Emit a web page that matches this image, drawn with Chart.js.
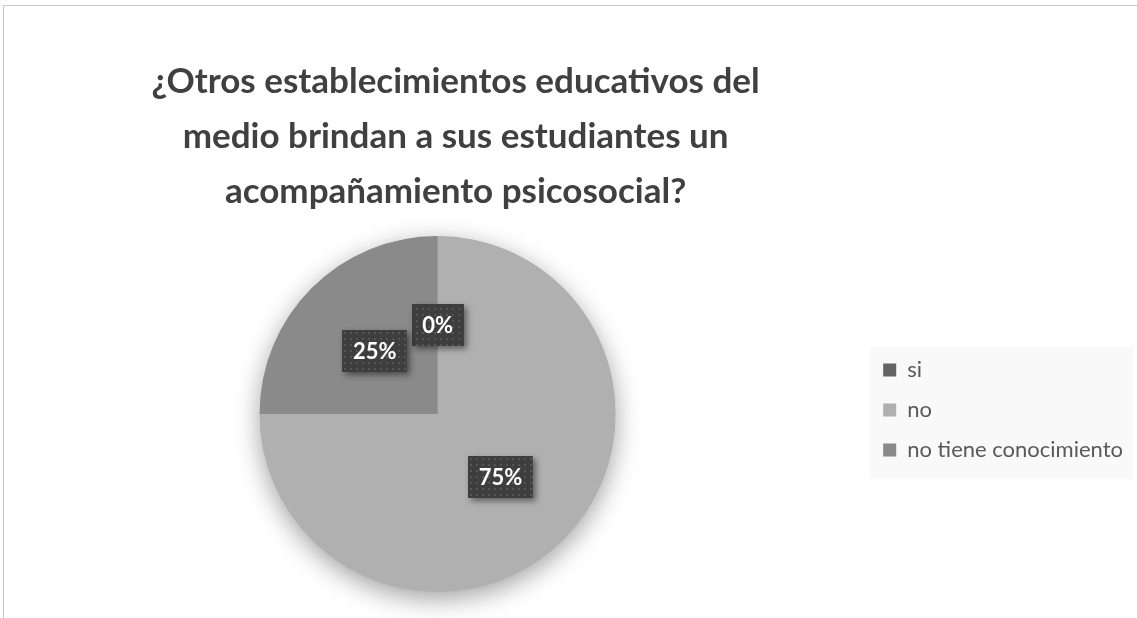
<!DOCTYPE html>
<html><head><meta charset="utf-8">
<script src="https://cdn.jsdelivr.net/npm/chart.js@4/dist/chart.umd.min.js"></script>
<style>
html,body{margin:0;padding:0;background:#fff;overflow:hidden;}
#wrap{position:relative;width:1137px;height:618px;}
#frame{position:absolute;left:3px;top:5px;width:2000px;height:2000px;border:1px solid #c9c9c9;box-sizing:border-box;}
canvas{position:absolute;left:0;top:0;}
</style></head><body>
<div id="wrap"><div id="frame"></div><canvas id="c" width="1137" height="618"></canvas></div>
<script>
const titleLines = ['¿Otros establecimientos educativos del', 'medio brindan a sus estudiantes un', 'acompañamiento psicosocial?'];
const categories = ['si', 'no', 'no tiene conocimiento'];
const percentages = [0, 75, 25];
const sliceColors = ['#646464', '#b0b0b0', '#8a8a8a'];

function makePattern(ctx) {
  const p = document.createElement('canvas');
  p.width = 6; p.height = 6;
  const pc = p.getContext('2d');
  pc.fillStyle = '#3e3e3e'; pc.fillRect(0, 0, 6, 6);
  pc.fillStyle = '#555555'; pc.fillRect(2, 2, 2, 2);
  return ctx.createPattern(p, 'repeat');
}

const legendBg = {
  id: 'legendBg',
  beforeDraw(chart) {
    const lg = chart.legend;
    if (!lg) return;
    const mid = (lg.top + lg.bottom) / 2;
    const ctx = chart.ctx;
    ctx.save();
    ctx.fillStyle = '#f9f9f9';
    ctx.fillRect(lg.left + 5, mid - 63, chart.width - 4 - (lg.left + 5), 132);
    ctx.restore();
  }
};

const layoutShift = {
  id: 'layoutShift',
  afterLayout(chart) {
    const t = chart.titleBlock;
    if (t) { t.left += 18; t.right += 18; }
    const lg = chart.legend;
    if (lg) { lg.top -= 4; lg.bottom -= 4; }
  }
};

const pieShadow = {
  id: 'pieShadow',
  beforeDatasetsDraw(chart) {
    const el = chart.getDatasetMeta(0).data[1];
    if (!el) return;
    const ctx = chart.ctx;
    ctx.save();
    ctx.shadowColor = 'rgba(0,0,0,0.38)';
    ctx.shadowBlur = 26;
    ctx.shadowOffsetY = 7;
    ctx.fillStyle = '#b0b0b0';
    ctx.beginPath();
    ctx.arc(el.x, el.y, el.outerRadius - 0.5, 0, Math.PI * 2);
    ctx.fill();
    ctx.restore();
  }
};

const valueLabels = {
  id: 'valueLabels',
  afterDatasetsDraw(chart) {
    const ctx = chart.ctx;
    const pattern = makePattern(ctx);
    const meta = chart.getDatasetMeta(0);
    meta.data.forEach((el, i) => {
      const pos = el.tooltipPosition();
      const txt = percentages[i] + '%';
      ctx.save();
      ctx.font = 'bold 22px Lato, "Open Sans", sans-serif';
      const w = ctx.measureText(txt).width + 21;
      const h = 42;
      const x = Math.round(pos.x - w / 2), y = Math.round(pos.y - h / 2);
      ctx.shadowColor = 'rgba(0,0,0,0.45)';
      ctx.shadowBlur = 6;
      ctx.shadowOffsetX = 3;
      ctx.shadowOffsetY = 3;
      ctx.fillStyle = '#3e3e3e';
      ctx.fillRect(x, y, w, h);
      ctx.shadowColor = 'transparent';
      ctx.fillStyle = pattern;
      ctx.fillRect(x, y, w, h);
      ctx.fillStyle = '#ffffff';
      ctx.textAlign = 'center';
      ctx.textBaseline = 'middle';
      ctx.fillText(txt, pos.x, pos.y + 1);
      ctx.restore();
    });
  }
};

new Chart(document.getElementById('c'), {
  type: 'pie',
  data: {
    labels: categories,
    datasets: [{
      data: percentages,
      backgroundColor: sliceColors,
      borderColor: sliceColors,
      borderWidth: 0
    }]
  },
  plugins: [legendBg, layoutShift, pieShadow, valueLabels],
  options: {
    responsive: false,
    animation: false,
    events: [],
    layout: { padding: { left: 10, right: 4, top: 0, bottom: 26 } },
    plugins: {
      title: {
        display: true,
        text: titleLines,
        fullSize: false,
        color: '#404040',
        font: { family: 'Lato, "Open Sans", sans-serif', size: 35, weight: 'bold', lineHeight: 1.571 },
        padding: { top: 54, bottom: 17 }
      },
      legend: {
        display: true,
        position: 'right',
        fullSize: false,
        align: 'center',
        labels: {
          boxWidth: 13,
          boxHeight: 13,
          padding: 18,
          color: '#595959',
          font: { family: 'Lato, "Open Sans", sans-serif', size: 22 }
        }
      },
      tooltip: { enabled: false }
    }
  }
});
</script>
</body></html>
